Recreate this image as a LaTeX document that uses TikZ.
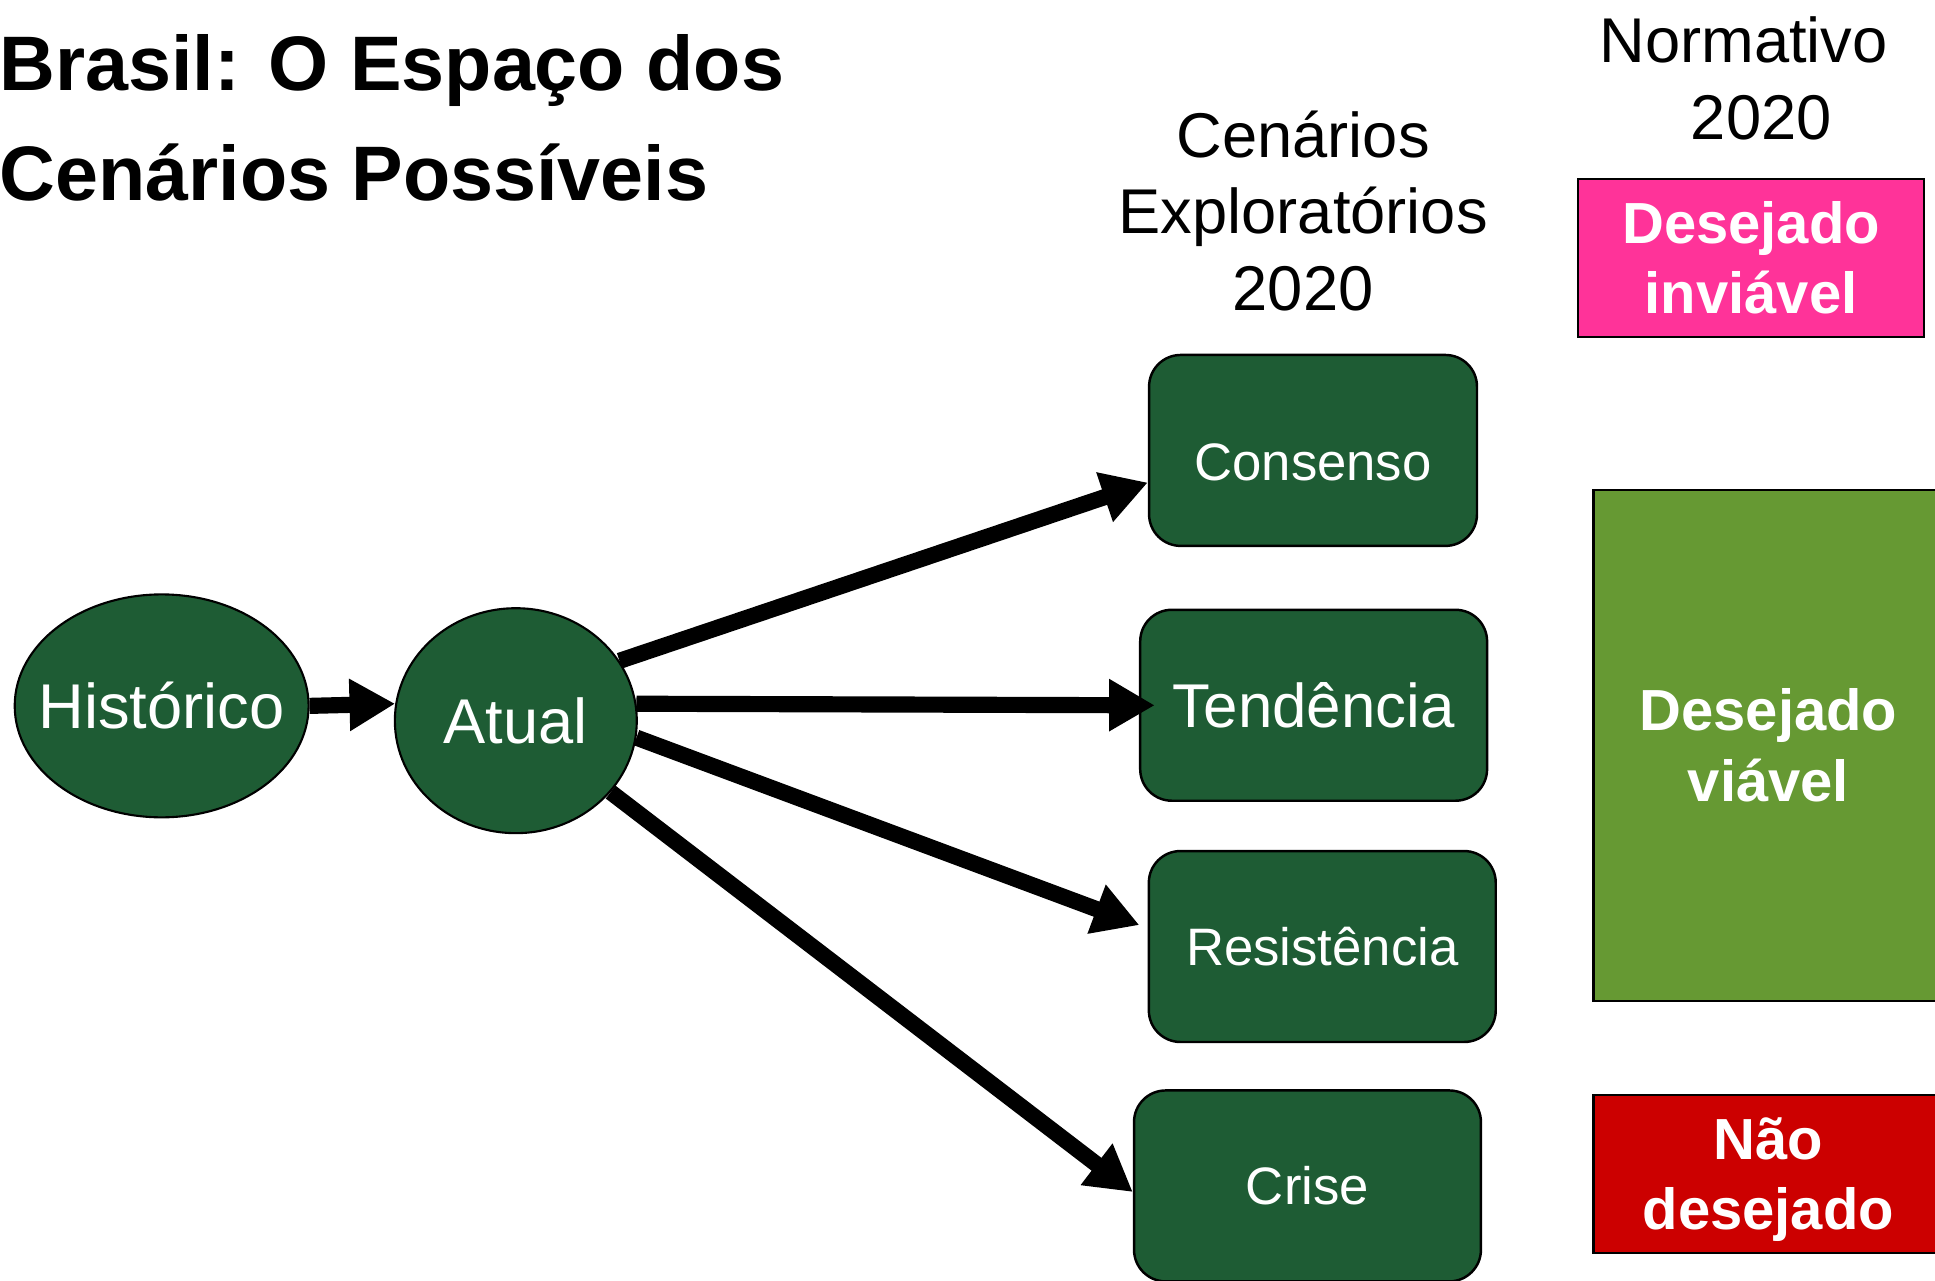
\documentclass[tikz,border=0pt]{standalone}
\usepackage{fontspec}
\setmainfont{Liberation Sans}
\usepackage{tikz}
\usetikzlibrary{shapes.geometric,arrows.meta}

\definecolor{cenverde}{HTML}{1E5C34}
\definecolor{verdeviavel}{HTML}{669933}
\definecolor{rosainviavel}{HTML}{FF3399}
\definecolor{vermelhonao}{HTML}{CC0000}

\begin{document}
\begin{tikzpicture}[x=0.01234cm,y=-0.01234cm,
    >={Triangle[length=13pt,width=14pt]},
    seta/.style={->,line width=4.6pt},
    elip/.style={draw,ellipse,fill=cenverde,line width=0.6pt,text=white,inner sep=0pt,
      font=\fontsize{18}{21}\selectfont},
    cen/.style={draw,rounded corners=9pt,fill=cenverde,line width=0.7pt,text=white,
      minimum width=3.47cm,minimum height=1.91cm,font=\fontsize{15}{18}\selectfont},
    norm/.style={draw,fill=#1,line width=0.6pt,text=white,align=center,inner sep=0pt,
      minimum width=3.5cm,font=\bfseries\fontsize{16.5}{20}\selectfont},
    rotulo/.style={align=center,inner sep=0pt,anchor=north,font=\fontsize{18}{21.8}\selectfont}]
    \useasboundingbox (0,0) rectangle (1568,1038);
    \clip (0,0) rectangle (1568,1038);
    %% titulo
    \node (titulo) [anchor=north west, align=left, inner sep=0pt,
      font=\bfseries\fontsize{22}{31.5}\selectfont] at (-1,27)
      {Brasil: O Espaço dos\\Cenários Possíveis};
    %% node
    \node (hist) [elip, inner xsep=-6pt, minimum width=2.94cm, minimum height=2.23cm] at (131,572) {Histórico};
    \node (atual) [elip, minimum width=2.42cm, minimum height=2.25cm] at (418,584) {Atual};
    \node (cons) [cen, minimum width=3.28cm, text height=17pt, text depth=0pt] at (1064,365) {Consenso};
    \node (tend) [cen, font=\fontsize{17.6}{20}\selectfont] at (1064.5,571.5) {Tendência};
    \node (resist) [cen] at (1071.5,767) {Resistência};
    \node (crise) [cen] at (1059.5,961) {Crise};
    % normativo
    \node (inv) [norm=rosainviavel, minimum width=3.455cm, minimum height=1.58cm] at (1419,209)
      {Desejado\\inviável};
    \node (viav) [norm=verdeviavel, minimum height=5.11cm] at (1433,604) {Desejado\\viável};
    \node (nao) [norm=vermelhonao, minimum height=1.58cm, text depth=0pt] at (1433,951) {Não\\desejado};
    % cabecalhos
    \node (expl) [rotulo] at (1056,89) {Cenários\\Exploratórios\\2020};
    \node (normt) [rotulo] at (1413,13) {Normativo\\\hspace*{10pt}2020};
    %% path
    \draw[seta] (hist.east) -- (atual.172);
    \draw[seta] (atual.30) -- (cons.191);
    \draw[seta, shorten >=-4.5pt] (atual.8) -- (tend.west);
    \draw[seta, shorten >=2.5pt] (atual.-8) -- (resist.174);
    \draw[seta] (atual.-37) -- (crise.182);
\end{tikzpicture}
\end{document}
